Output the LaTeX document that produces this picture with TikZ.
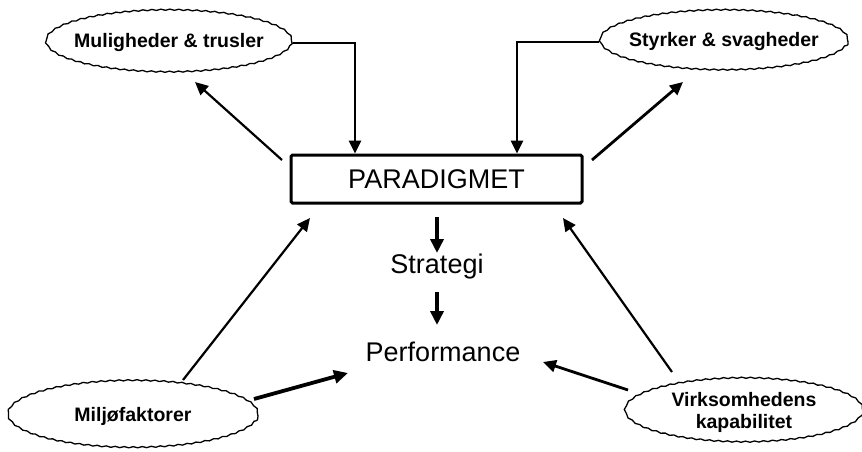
\documentclass[tikz,border=0pt]{standalone}
\usepackage{fontspec}
\setmainfont{Liberation Sans}
\usetikzlibrary{shapes.geometric,arrows.meta,decorations.pathmorphing,calc}
\begin{document}
\begin{tikzpicture}[x=1pt,y=-1pt,
  cloud/.style={ellipse, draw, line width=1.3pt, inner sep=0pt,
    decorate, decoration={snake, amplitude=0.6pt, segment length=9pt}},
  cloudtext/.style={font=\fontsize{19.5}{22}\selectfont\bfseries, align=center, inner sep=0pt},
  big/.style={font=\fontsize{27}{30}\selectfont, inner sep=0pt},
  heavy/.style={line width=3.8pt, -{Triangle[length=14pt,width=13pt]}},
  medium/.style={line width=2.8pt, -{Triangle[length=13pt,width=12pt]}},
  light/.style={line width=2.2pt, -{Triangle[length=13pt,width=12pt]}}]

\path[use as bounding box] (0,0) rectangle (862,452);

% surrounding factors
\node[cloud, minimum width=246pt, minimum height=62pt] (mul) at (169,43) {};
\node[cloudtext] (multxt) at (mul) {Muligheder \& trusler};
\node[cloud, minimum width=248pt, minimum height=60pt] (sty) at (724,42) {};
\node[cloudtext] (stytxt) at (sty) {Styrker \& svagheder};
\node[cloud, minimum width=250pt, minimum height=67pt] (mil) at (133,416) {};
\node[cloudtext] (miltxt) at (mil) {Miljøfaktorer};
\node[cloud, minimum width=238pt, minimum height=64pt] (vir) at (744,412) {};
\node[cloudtext] (virtxt) at (vir) {Virksomhedens\\kapabilitet};

% central paradigm and its outcomes
\node[draw, line width=3pt, rounded corners=1.5pt, minimum width=291pt, minimum height=48pt, big] (par) at (436.5,179) {PARADIGMET};
\node[big] (str) at (437,267) {Strategi};
\node[big] (per) at (443,352) {Performance};

% elbow connectors into the paradigm
\coordinate (kl) at (355,43);
\coordinate (kr) at (517,42);
\draw[medium] (mul.east) -- (kl) -- (kl |- par.north);
\draw[medium] (sty.west) -- (kr) -- (kr |- par.north);

% paradigm feeding back to the factors
\coordinate (pl) at (282,160);
\coordinate (ml) at (195,82);
\coordinate (pr) at (592,160);
\coordinate (mr) at (683,82);
\draw[light] (pl) -- (ml);
\draw[medium] (pr) -- (mr);

% paradigm -> strategy -> performance
\coordinate (s1) at (437,217);
\coordinate (s2) at (437,253);
\coordinate (s3) at (437,292);
\coordinate (s4) at (437,325);
\draw[heavy] (s1) -- (s2);
\draw[heavy] (s3) -- (s4);

% environment and capability
\coordinate (e1) at (183,380);
\coordinate (e2) at (310,218);
\coordinate (e3) at (254,399);
\coordinate (e4) at (348,373);
\draw[light] (e1) -- (e2);
\draw[heavy] (e3) -- (e4);
\coordinate (c1) at (672,372);
\coordinate (c2) at (563,218);
\coordinate (c3) at (628,390);
\coordinate (c4) at (543,362);
\draw[light] (c1) -- (c2);
\draw[medium] (c3) -- (c4);
\end{tikzpicture}
\end{document}
